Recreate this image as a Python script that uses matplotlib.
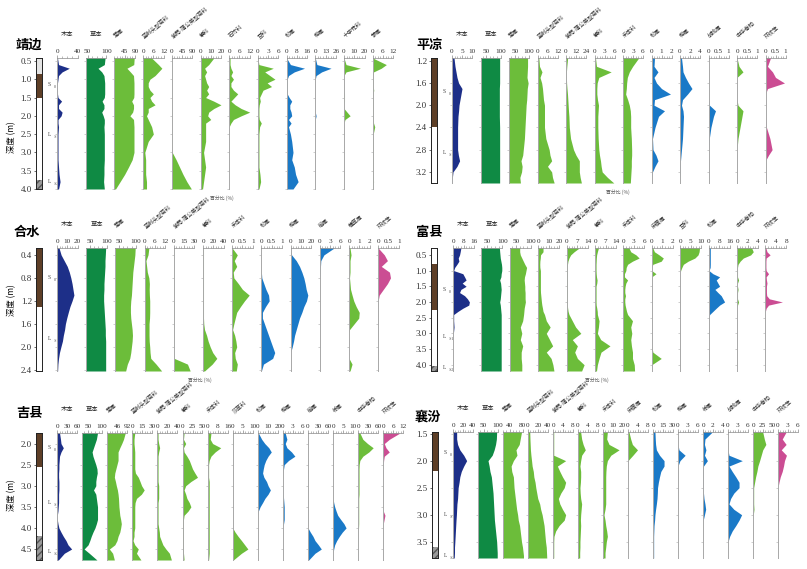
import matplotlib
matplotlib.use("Agg")
import matplotlib.pyplot as plt
from matplotlib.ticker import AutoMinorLocator, FixedLocator

plt.rcParams['font.family'] = ['Liberation Serif', 'Noto Sans CJK SC']
plt.rcParams['mathtext.fontset'] = 'stix'

W, H = 807, 569

# ---------------- 靖边 ----------------
JB_DEPTH = [0.42, 0.6, 0.7, 0.8, 0.9, 1.0, 1.1, 1.2, 1.3, 1.4, 1.5, 1.6, 1.7, 1.8,
            1.9, 2.0, 2.1, 2.2, 2.3, 2.5, 2.7, 3.0, 3.2, 3.4, 3.6, 3.8, 4.0]
JB_TAXA = ['木本', '草本', '蒿属', '蓝刺头型菊科', '紫菀-蒲公英型菊科', '藜科', '石竹科',
           '豆科', '松属', '桦属', '十字花科', '蓼属']
JB_GROUP = ['AP', 'NAP', 'herb', 'herb', 'herb', 'herb', 'herb', 'herb', 'tree', 'tree', 'herb', 'herb']
JB_TICKS = [[0, 40], [50, 100], [45, 90], [0, 6, 12], [0, 45, 90], [0, 10, 20], [0, 6, 12],
            [0, 3, 6], [0, 8, 16], [0, 13, 26], [0, 10, 20], [0, 6, 12]]
JB_XMIN = [0, 45, 0, 0, 0, 0, 0, 0, 0, 0, 0, 0]
JB_VALUES = [
    [1, 3, 24, 10, 3, 2, 1, 0.5, 1, 1, 2, 9, 3, 3, 10, 8, 2, 2, 3, 2, 2, 2, 2, 3, 4, 6, 3],
    [97, 95, 78, 88, 94, 95, 96, 96, 96, 96, 95, 89, 94, 94, 88, 92, 95, 95, 94, 95, 95, 95, 95, 94, 94, 93, 95],
    [87, 85, 55, 70, 84, 85, 86, 86, 86, 86, 85, 76, 84, 84, 80, 68, 84, 85, 86, 86, 86, 86, 78, 62, 45, 25, 5],
    [5, 9, 11, 9, 7, 4, 3, 3, 4, 6, 4, 5, 7, 3, 3, 2, 3, 4, 5, 6, 3, 1, 1.5, 1.5, 1.5, 2, 2],
    [1, 1, 1, 1, 1, 1, 1, 1, 1, 1, 1, 1, 1, 1, 1, 1, 1, 1, 1, 1, 1, 2, 19, 34, 49, 66, 86],
    [13, 8, 4, 6, 4, 5, 6, 8, 6, 8, 5, 13, 20, 13, 8, 7, 10, 5, 5, 5, 5, 3, 4, 5, 4, 3, 2],
    [0.5, 0.5, 1, 2, 1, 2.5, 1, 1, 2.5, 5, 3, 1, 3.5, 7, 12, 7, 2.5, 1, 0, 0, 0, 0, 0, 0, 0, 0, 0],
    [0, 0.3, 4.5, 2, 3.5, 5, 2.7, 4, 1.5, 1, 0.5, 0.7, 0.4, 0.3, 0.3, 0.3, 0.4, 1, 0.5, 0.3, 0.3, 0.3, 0.3, 0.3, 0.6, 0.8, 0.3],
    [0, 3, 14, 6, 1.5, 0.5, 0.5, 0.5, 0.5, 0.5, 2, 4, 2.5, 2.5, 3.5, 4, 1.5, 3.5, 1.5, 3, 4, 5, 4, 6, 7, 9, 5],
    [0, 2, 20, 8, 1, 0, 0, 0, 0, 0, 0, 0, 0, 0, 0, 1, 0, 0, 0, 0, 0, 0, 0, 0, 0, 0, 0],
    [0, 2, 16, 2, 0, 0, 0, 0, 0, 0.5, 0.5, 0.5, 0, 0, 3, 6, 1, 0, 0, 0, 0, 0, 0, 0, 0, 0, 0],
    [0, 8, 5, 0.5, 0.3, 0.3, 0.3, 0.3, 0.6, 0.3, 0.3, 0.3, 0.3, 0.3, 0.3, 0.3, 0.3, 0.5, 1.2, 0.3, 0.3, 0.3, 0.3, 0.3, 0.3, 0.5, 0.3],
]
JB_DEPTH_TICKS = [0.5, 1.0, 1.5, 2.0, 2.5, 3.0, 3.5, 4.0]
JB_LAYERS = [(0.42, 0.85, 'top'), (0.85, 1.5, 'soil'), (1.5, 3.75, 'loess'), (3.75, 4.0, 'base')]
JB_UNITS = [('S0', 1.15), ('L1-1', 2.5), ('L1-2', 3.8)]

# ---------------- 平凉 ----------------
PL_DEPTH = [1.15, 1.3, 1.4, 1.5, 1.6, 1.7, 1.8, 1.9, 2.0, 2.1, 2.2, 2.4, 2.6, 2.8, 2.9, 3.0, 3.1, 3.2, 3.3, 3.4]
PL_TAXA = ['木本', '草本', '蒿属', '蓝刺头型菊科', '紫菀-蒲公英型菊科', '藜科', '禾本科',
           '松属', '桦属', '胡桃属', '中华卷柏', '环纹藻']
PL_GROUP = ['AP', 'NAP', 'herb', 'herb', 'herb', 'herb', 'herb', 'tree', 'tree', 'tree', 'herb', 'alga']
PL_TICKS = [[0, 5, 10], [50, 100], [50, 100], [0, 6, 12], [0, 12, 24], [0, 3, 6], [0, 3, 6],
            [0, 1, 2], [0, 2, 4], [0, 0.5, 1], [0, 0.5, 1], [0, 0.5, 1]]
PL_XMIN = [0, 30, 30, 0, 0, 0, 0, 0, 0, 0, 0, 0]
PL_VALUES = [
    [1, 1.5, 2, 2.5, 3.3, 5, 4.5, 4, 3.5, 3.3, 3, 2.8, 2.8, 2.8, 3.2, 3.8, 2.5, 0.5, 0.2, 0.2],
    [97, 97, 97, 97, 97, 96, 96, 96, 96, 96, 96, 97, 97, 97, 97, 97, 97, 97, 97, 97],
    [95, 95, 94, 93, 97, 94, 93, 92, 90, 89, 88, 86, 84, 80, 78, 72, 76, 74, 68, 70],
    [0.8, 1.2, 2.7, 1.5, 2.5, 3, 3.3, 3.6, 4.2, 4.2, 4.2, 4.2, 5, 7, 7.5, 8.5, 6, 8.5, 9, 10],
    [2, 1, 0.5, 0.5, 0.7, 1.2, 1.8, 2.2, 2.6, 3, 3.5, 4, 5.5, 9, 12, 16, 16, 16, 17, 18.5],
    [0.3, 0.6, 5, 1.3, 0.8, 0.7, 0.7, 0.9, 1.2, 1.1, 1, 1, 1.1, 1.3, 1.5, 1.8, 2, 2.3, 3.9, 5.8],
    [4.7, 2.9, 1.9, 1.3, 1.1, 1, 0.8, 1.4, 1.9, 2.2, 2.3, 2.3, 2.5, 2.6, 2.6, 2.5, 2.5, 2.4, 2.3, 2.2],
    [0.3, 0.25, 0.65, 0.25, 0.5, 1.0, 1.9, 0.3, 0.25, 1.3, 0.7, 0.35, 0.1, 0.15, 0.45, 0.65, 0.35, 0.1, 0, 0],
    [0.3, 0.5, 0.6, 1.1, 1.7, 2.4, 1.5, 0.5, 0.3, 0.6, 0.7, 0.6, 0.5, 0.3, 0.2, 0.1, 0.1, 0.1, 0, 0],
    [0, 0, 0, 0, 0, 0, 0, 0, 0.05, 0.35, 0.25, 0.12, 0.04, 0, 0, 0, 0, 0, 0, 0],
    [0, 0.1, 0.3, 0, 0, 0, 0, 0, 0.05, 0.3, 0.25, 0.15, 0.05, 0, 0, 0, 0, 0, 0, 0],
    [0.25, 0.1, 0.35, 0.5, 0.95, 0.1, 0, 0, 0, 0, 0, 0.05, 0.22, 0.33, 0.15, 0, 0, 0, 0, 0],
]
PL_DEPTH_TICKS = [1.2, 1.6, 2.0, 2.4, 2.8, 3.2]
PL_LAYERS = [(1.15, 2.4, 'soil'), (2.4, 3.35, 'loess')]
PL_UNITS = [('S0', 1.75), ('L1-1', 2.85)]

# ---------------- 合水 ----------------
HS_DEPTH = [0.28, 0.4, 0.5, 0.6, 0.7, 0.8, 0.9, 1.0, 1.1, 1.2, 1.3, 1.4, 1.5, 1.6, 1.7,
            1.8, 1.9, 2.0, 2.1, 2.2, 2.3, 2.42]
HS_TAXA = ['木本', '草本', '蒿属', '蓝刺头型菊科', '紫菀-蒲公英型菊科', '藜科', '禾本科',
           '松属', '桦属', '榆属', '葎草属', '环纹藻']
HS_GROUP = ['AP', 'NAP', 'herb', 'herb', 'herb', 'herb', 'herb', 'tree', 'tree', 'tree', 'herb', 'alga']
HS_TICKS = [[0, 10, 20], [50, 100], [50, 100], [0, 6, 12], [0, 15, 30], [0, 20, 40], [0, 0.5, 1],
            [0, 0.5, 1], [0, 10, 20], [0, 3, 6], [0, 1, 2], [0, 0.5, 1]]
HS_XMIN = [0, 40, 40, 0, 0, 0, 0, 0, 0, 0, 0, 0]
HS_VALUES = [
    [2, 4, 7, 10, 12, 13.5, 14.7, 15.6, 16.5, 14.7, 12.6, 11, 9.5, 8.2, 7.4, 6.2, 5.3, 3.8, 2.4, 1.5, 0.9, 0.6],
    [97, 96, 95, 95, 94, 93, 92, 92, 91, 91, 92, 93, 94, 95, 96, 96, 97, 97, 97, 97, 97, 97],
    [98, 97, 95, 93, 91, 90, 89, 88, 87, 85, 84, 84, 85, 87, 89, 90, 89, 87, 85, 82, 75, 70],
    [2.5, 2, 0.8, 1.2, 1.6, 2.5, 2.8, 2.7, 2.8, 3, 3, 3, 2.9, 2.6, 2.6, 2.6, 2.7, 3, 3.2, 3.6, 6.7, 10],
    [0.3, 0.3, 0.3, 0.3, 0.3, 0.3, 0.3, 0.3, 0.3, 0.3, 0.3, 0.3, 0.3, 0.3, 0.3, 0.3, 0.3, 0.3, 0.3, 0.5, 20, 24],
    [1, 1, 1, 1, 1, 1, 1, 1, 1, 1, 1, 1, 1, 1.5, 3, 7, 10, 14, 19, 27, 18, 3],
    [0, 0.25, 0.1, 0.22, 0.05, 0.08, 0.3, 0.5, 0.83, 0.6, 0.4, 0.22, 0.15, 0.08, 0.02, 0.12, 0.18, 0.22, 0.12, 0.15, 0.25, 0.2],
    [0, 0, 0, 0, 0, 0.02, 0.12, 0.22, 0.35, 0.38, 0.2, 0.05, 0.05, 0.15, 0.25, 0.35, 0.45, 0.55, 0.65, 0.55, 0.1, 0],
    [0, 1, 5.5, 8.7, 11, 12.9, 14.2, 15.2, 16.8, 15.5, 12.9, 11, 8.7, 7.1, 5.5, 3.9, 2.9, 1.6, 0, 0, 0, 0],
    [4.2, 1.2, 0.3, 0.2, 0.15, 0, 0, 0, 0, 0, 0, 0, 0, 0, 0, 0, 0, 0, 0, 0, 0, 0],
    [0.1, 0.2, 0.1, 0.1, 0.1, 0.05, 0.1, 0.15, 0.3, 0.46, 0.7, 1.0, 0.95, 0.5, 0.05, 0, 0, 0, 0, 0, 0.3, 0.1],
    [0, 0.3, 0.45, 0.15, 0.55, 0.6, 0.45, 0.25, 0.05, 0, 0, 0, 0, 0, 0, 0, 0, 0, 0, 0, 0, 0],
]
HS_DEPTH_TICKS = [0.4, 0.8, 1.2, 1.6, 2.0, 2.4]
HS_LAYERS = [(0.28, 1.3, 'soil'), (1.3, 2.42, 'loess')]
HS_UNITS = [('S0', 0.8), ('L1-1', 1.85)]

# ---------------- 富县 ----------------
FX_DEPTH = [0.28, 0.4, 0.5, 0.6, 0.7, 0.8, 0.9, 1.0, 1.1, 1.2, 1.3, 1.4, 1.5, 1.6, 1.7, 1.8,
            1.9, 2.0, 2.1, 2.2, 2.3, 2.4, 2.6, 2.8, 3.0, 3.2, 3.4, 3.6, 3.8, 4.0, 4.2]
FX_TAXA = ['木本', '草本', '蒿属', '蓝刺头型菊科', '紫菀-蒲公英型菊科', '藜科', '禾本科',
           '麻黄属', '豆科', '松属', '中华卷柏', '环纹藻']
FX_GROUP = ['AP', 'NAP', 'herb', 'herb', 'herb', 'herb', 'herb', 'herb', 'herb', 'tree', 'herb', 'alga']
FX_TICKS = [[0, 8, 16], [50, 100], [50, 100], [0, 10, 20], [0, 7, 14], [0, 7, 14], [0, 3, 6],
            [0, 1, 2], [0, 5, 10], [0, 8, 16], [0, 2, 4], [0, 4, 8]]
FX_XMIN = [0, 30, 30, 0, 0, 0, 0, 0, 0, 0, 0, 0]
FX_VALUES = [
    [6, 5.5, 5, 4, 4.5, 3, 1.3, 0.5, 7.5, 8.8, 10, 7, 10, 6, 5, 8.8, 11, 12.5, 12, 7.5, 3.8, 0.5,
     0.5, 0.8, 0.3, 0, 0, 0, 0, 0, 0],
    [90, 91, 92, 93, 95, 97, 98, 98, 96, 95, 91, 94, 95, 96, 95, 94, 93, 91, 93, 94, 95, 96,
     96, 96, 96, 96, 96, 96, 96, 96, 96],
    [63, 63, 65, 70, 75, 80, 86, 84, 82, 79, 78, 79, 80, 80, 81, 81, 81, 82, 80, 78, 77, 76,
     73, 65, 70, 65, 73, 68, 68, 70, 70],
    [4.6, 4.6, 2.2, 2, 1.6, 1.5, 1.6, 2.1, 2.1, 2.1, 2.1, 2.1, 2.1, 2.1, 2.2, 2.5, 2.8, 3.1, 3.5, 4.1, 4.6, 6,
     7.7, 11.4, 7.7, 10.8, 13.8, 7.7, 12.3, 14, 15],
    [8.4, 5, 2.7, 1.6, 0.9, 0.6, 0.5, 0.5, 0.5, 0.5, 0.5, 0.5, 0.5, 0.5, 0.5, 0.5, 0.5, 0.5, 0.5, 0.7, 1, 1.6,
     3.8, 6, 9.5, 3.8, 7.2, 5.4, 7.2, 11.7, 10],
    [2.3, 1.6, 1.1, 0.9, 0.8, 0.7, 0.7, 0.7, 0.8, 1, 1.4, 1.2, 0.7, 0.7, 0.7, 0.7, 0.7, 0.7, 0.8, 1.2, 1.5, 1.6,
     2.7, 2.3, 1.6, 3.8, 10, 4, 2.7, 1.6, 1],
    [1.6, 2.1, 3.6, 4.5, 2.6, 1.2, 0.8, 0.7, 0.3, 0.3, 1.2, 0.7, 0.5, 0.4, 0.4, 0.6, 0.4, 0.4, 0.5, 0.7, 0.9, 1.2,
     2.6, 2.1, 2.4, 2.1, 2.3, 2.6, 2.6, 3.1, 3.2],
    [0.1, 0.25, 0.7, 1.1, 0.9, 0.1, 0, 0, 0.4, 0, 0, 0, 0, 0, 0, 0, 0, 0, 0, 0, 0, 0,
     0, 0, 0, 0, 0, 0.1, 0.9, 0, 0],
    [9.2, 9, 8.5, 7, 3.8, 1.5, 0.8, 0.2, 0, 0, 0, 0, 0, 0, 0, 0, 0, 0, 0, 0, 0, 0,
     0, 0, 0, 0, 0, 0, 0, 0, 0],
    [1.3, 1.3, 1.3, 1.3, 1.3, 1.3, 1.2, 0.3, 3.3, 8.4, 5.8, 7.1, 8.4, 4.8, 7.1, 9.6, 10.9, 12.2, 8.4, 5.8, 3.3, 0.8,
     0, 0, 0, 0, 0, 0, 0, 0, 0],
    [2.8, 3.1, 2.6, 1.2, 0.6, 0.2, 0.1, 0.1, 0.1, 0.1, 0.3, 0.1, 0.1, 0.2, 0.1, 0.1, 0.1, 0.3, 0.1, 0, 0, 0,
     0, 0, 0, 0, 0, 0, 0, 0, 0],
    [0.2, 0.6, 1.8, 0.3, 0.2, 0.2, 0.2, 0.3, 1.2, 0.3, 0.4, 0.6, 0.4, 0.4, 0.4, 0.5, 1.5, 6.5, 1.2, 0.3, 0, 0,
     0, 0, 0, 0, 0, 0, 0, 0, 0],
]
FX_DEPTH_TICKS = [0.5, 1.0, 1.5, 2.0, 2.5, 3.0, 3.5, 4.0]
FX_LAYERS = [(0.28, 0.8, 'loess'), (0.8, 2.27, 'soil'), (2.27, 4.05, 'loess'), (4.05, 4.2, 'base')]
FX_UNITS = [('S0', 1.6), ('L1-1', 3.1), ('L1-2', 4.1)]

# ---------------- 吉县 ----------------
JX_DEPTH = [1.75, 1.9, 2.0, 2.1, 2.2, 2.3, 2.4, 2.5, 2.6, 2.7, 2.8, 2.9, 3.0, 3.1, 3.2,
            3.3, 3.4, 3.5, 3.6, 3.7, 3.8, 3.9, 4.0, 4.1, 4.2, 4.3, 4.4, 4.5, 4.6, 4.76]
JX_TAXA = ['木本', '草本', '蒿属', '蓝刺头型菊科', '紫菀-蒲公英型菊科', '藜科', '禾本科',
           '莎草科', '松属', '桦属', '榆属', '栎属', '中华卷柏', '环纹藻']
JX_GROUP = ['AP', 'NAP', 'herb', 'herb', 'herb', 'herb', 'herb', 'herb', 'tree', 'tree', 'tree', 'tree',
            'herb', 'alga']
JX_TICKS = [[0, 30, 60], [50, 100], [46, 92], [0, 15, 30], [0, 20, 40], [0, 25, 50], [0, 8, 16],
            [0, 5, 10], [0, 10, 20], [0, 3, 6], [0, 30, 60], [0, 5, 10], [0, 30, 60], [0, 6, 12]]
JX_XMIN = [0, 30, 0, 0, 0, 0, 0, 0, 0, 0, 0, 0, 0, 0]
JX_VALUES = [
    [7.6, 10.5, 12, 19, 12, 7.6, 6.7, 5.7, 5.7, 4.8, 4.8, 5.7, 5.7, 5.7, 4.8, 4.8, 4.8, 3.8, 2.9, 1, 1, 2.9,
     5.7, 12, 19, 27, 33, 44, 22, 4],
    [84, 80, 75, 70, 65, 68, 73, 78, 82, 83, 80, 78, 78, 70, 78, 80, 82, 84, 84, 84, 84, 80,
     75, 68, 62, 57, 51, 37, 55, 82],
    [83, 75, 67, 58, 50, 50, 50, 45, 40, 35, 33, 38, 42, 47, 50, 52, 53, 54, 56, 58, 62, 65,
     62, 58, 50, 45, 35, 10, 25, 33],
    [3.7, 2.6, 2.6, 3.2, 3.7, 3.7, 3.7, 3.7, 3.7, 4.7, 9, 11.6, 14, 17.9, 13.7, 6.3, 4.2, 3.7, 3.7, 3.7, 3.7, 3.7,
     3.7, 2.6, 2.6, 1.1, 3.7, 9, 6.3, 13],
    [1.3, 1.3, 2.6, 4.5, 2.6, 1.3, 1.3, 1.3, 1.3, 1.3, 1.3, 1.3, 2.6, 2.6, 2.6, 2.6, 1.3, 1.3, 1.3, 1.3, 1.3, 1.3,
     2.6, 3.9, 4.5, 7.7, 11, 17, 24, 28],
    [4, 2.5, 8, 2.5, 4, 11, 17, 21, 25, 31, 37.5, 21, 8, 4, 8, 11, 17, 21, 14, 4, 2.5, 2.5,
     2.5, 2.5, 2.5, 2.5, 2.5, 2.5, 2.5, 4],
    [2.7, 2.1, 4, 10.5, 6, 2.7, 1.3, 0.8, 0.8, 0.8, 0.8, 1.3, 1.3, 1.3, 1.3, 1.3, 1.3, 1.3, 1.3, 1.3, 1.3, 1.3,
     1.3, 1.3, 1.3, 1.3, 1.3, 1.3, 1.3, 0.8],
    [0.3, 0.3, 0.3, 0, 0, 0, 0, 0, 0, 0, 0, 0, 0, 0, 0, 0, 0, 0, 0, 0, 0, 0,
     0, 1.2, 2.7, 4.4, 6, 7.6, 4.4, 0.3],
    [0.6, 3.9, 7, 11, 13.5, 10.3, 8, 6.4, 5.5, 4.8, 6.1, 8.7, 10.3, 12.6, 10.3, 7.1, 4.8, 2.3, 0.6, 0, 0, 0,
     0, 0, 0, 0, 0, 0, 0, 0],
    [0.7, 1.2, 0.7, 1.2, 2.6, 3.6, 1.7, 0.4, 0.2, 0, 0, 0, 0, 0.1, 0.1, 0.2, 0.3, 0.4, 0.4, 0.4, 0.4, 0.2,
     0, 0, 0, 0, 0, 0, 0, 0],
    [0, 0, 0, 0, 0, 0, 0, 0, 0, 0, 0, 0, 0, 0, 0, 0, 0, 0, 0, 0, 0, 0,
     0, 7, 15, 21, 31, 40, 21, 2],
    [0, 0, 0, 0, 0, 0, 0, 0, 0, 0, 0, 0, 0, 0, 0, 0, 0.3, 0.8, 1.5, 2.3, 3.8, 5.4,
     6.5, 4.6, 3.1, 1.8, 0.8, 0.3, 0, 0],
    [5, 14, 28, 45, 32, 14, 5, 3, 2.5, 2.5, 2.5, 2.5, 2.5, 2.5, 2.5, 1.5, 1.5, 1.5, 1.5, 1.5, 1.5, 1.5,
     1, 0.5, 0.5, 0.5, 0.5, 0.5, 0.5, 0.5],
    [10, 3.6, 0.6, 1.6, 3.6, 0.6, 0.2, 0, 0, 0, 0, 0, 0, 0, 0, 0, 0, 0, 0, 1, 0.5, 0,
     0, 0, 0, 0, 0, 0, 0, 0],
]
JX_DEPTH_TICKS = [2.0, 2.5, 3.0, 3.5, 4.0, 4.5]
JX_LAYERS = [(1.75, 2.55, 'soil'), (2.55, 4.2, 'loess'), (4.2, 4.76, 'base')]
JX_UNITS = [('S0', 2.1), ('L1-1', 3.4), ('L1-2', 4.55)]

# ---------------- 襄汾 ----------------
XF_DEPTH = [1.47, 1.6, 1.7, 1.8, 1.9, 2.0, 2.1, 2.2, 2.3, 2.4, 2.5, 2.6, 2.7, 2.8, 2.9,
            3.0, 3.1, 3.2, 3.3, 3.4, 3.5, 3.6, 3.7, 3.8]
XF_TAXA = ['木本', '草本', '蒿属', '蓝刺头型菊科', '紫菀-蒲公英型菊科', '藜科', '禾本科',
           '麻黄属', '松属', '桦属', '栎属', '胡桃属', '中华卷柏', '环纹藻']
XF_GROUP = ['AP', 'NAP', 'herb', 'herb', 'herb', 'herb', 'herb', 'herb', 'tree', 'tree', 'tree', 'tree',
            'herb', 'alga']
XF_TICKS = [[0, 20, 40], [50, 100], [40, 80], [0, 20, 40], [0, 4, 8], [0, 4, 8], [0, 10, 20],
            [0, 4, 8], [0, 15, 30], [0, 3, 6], [0, 2, 4], [0, 3, 6], [0, 25, 50], [0, 3, 6]]
XF_XMIN = [0, 30, 20, 0, 0, 0, 0, 0, 0, 0, 0, 0, 0, 0]
XF_VALUES = [
    [7.5, 7.5, 9.4, 14, 22, 28, 22, 17, 14, 12.5, 10.6, 10, 9.4, 8.1, 7.5, 7, 6.2, 5.6, 5, 4.4, 3.8, 3.1, 3.1, 2.5],
    [97, 96, 93, 88, 81, 66, 70, 73, 78, 80, 82, 84, 85, 86, 87, 88, 89, 91, 93, 95, 97, 98, 99, 99],
    [77, 73, 70, 60, 63, 52, 45, 47, 52, 53, 54, 56, 58, 60, 62, 65, 67, 71, 73, 75, 77, 80, 82, 84],
    [3.6, 4, 4.5, 5, 6, 7.3, 8.5, 10.9, 12, 14.5, 16, 18, 20, 24, 26, 29, 31, 33, 34, 35, 36, 37.5, 38, 38.5],
    [0.3, 0.3, 0.3, 0.3, 0.3, 5.2, 1.8, 2.8, 3.9, 5.2, 4.6, 3.2, 2.2, 2.8, 3.9, 5.2, 4.6, 2.5, 1.1, 0.4, 0.3, 0.3, 0.3, 0.3],
    [1.1, 1.5, 2.1, 3, 1.5, 1.1, 0.8, 1.1, 1.1, 1, 0.8, 0.9, 1.1, 1.5, 1.3, 1.1, 1, 1.1, 1, 0.9, 0.8, 0.8, 0.7, 0.7],
    [4.5, 3.8, 6.2, 16.5, 8, 4.5, 3.4, 3, 2.8, 2.8, 2.8, 2.8, 2.8, 2.8, 2.1, 1, 2.1, 2.8, 3.8, 4.5, 3.4, 2.8, 2.1, 2.1],
    [0.4, 1.1, 1.8, 3.9, 2, 0, 0, 0, 0, 0, 0, 0, 0, 0, 0, 0, 0, 0, 0, 0, 0, 0, 0, 0],
    [3, 3.5, 4, 5.2, 10, 17, 17, 12, 10, 8.3, 7, 6.7, 6.2, 5.2, 4, 3, 2.5, 1.6, 1.3, 1, 1, 1, 1, 1],
    [0, 0, 0, 0.3, 2.2, 0.6, 0, 0, 0, 0, 0, 0, 0, 0, 0, 0, 0, 0, 0, 0, 0, 0, 0, 0],
    [1.9, 0.4, 0.3, 0.6, 0.3, 0.9, 0.1, 0.1, 0.1, 0.1, 0.1, 0.1, 0.2, 0.4, 0.55, 0.3, 0.05, 0, 0, 0, 0, 0, 0, 0],
    [0, 0, 0, 0, 0.3, 4.4, 0.3, 1.3, 2.4, 3.4, 3.4, 1.8, 0.8, 0.3, 1.8, 4.2, 3.4, 2.4, 1.3, 0.5, 0, 0, 0, 0],
    [25, 29, 33, 25, 21, 17, 12.5, 10, 6.7, 4.2, 1.7, 1.7, 1.7, 1.7, 2.5, 0.8, 0, 0, 0, 0, 0, 0, 0, 0],
    [2.5, 1.3, 2.5, 1.0, 2.6, 2.0, 1.7, 1.3, 0.7, 0.3, 0, 0, 0, 0, 0, 0, 0, 0, 0, 0, 0, 0, 0, 0],
]
XF_DEPTH_TICKS = [1.5, 2.0, 2.5, 3.0, 3.5]
XF_LAYERS = [(1.47, 2.2, 'soil'), (2.2, 3.6, 'loess'), (3.6, 3.8, 'base')]
XF_UNITS = [('S0', 1.85), ('L1-1', 3.0), ('L1-2', 3.75)]

COLORS = {'AP': '#1d2f88', 'NAP': '#0f8a44', 'herb': '#6cbd3a', 'tree': '#1a79c7', 'alga': '#cb4d93'}
LAYER_COLORS = {'top': '#e4e4e4', 'soil': '#5e3f27', 'loess': '#ffffff', 'base': '#9a9a9a'}
UNIT_SUB = {'S0': '0', 'L1-1': '1-1', 'L1-2': '1-2'}


def px_axes(fig, x0, y0, x1, y1):
    return fig.add_axes([x0 / W, 1 - y1 / H, (x1 - x0) / W, (y1 - y0) / H])


def draw_panel(fig, name, depth, taxa, groups, ticks, xmin, values, dticks, layers, units, lay):
    y0, y1 = lay['y']
    ylim = (depth[-1], depth[0])

    fig.text(lay['title'][0] / W, 1 - lay['title'][1] / H, name, fontsize=9.5,
             fontweight='bold', family=['Noto Sans CJK SC'], va='center', ha='left')

    # lithology column with depth axis
    sx0, sx1 = lay['strat']
    ax_s = px_axes(fig, sx0, y0, sx1, y1)
    for top, bot, kind in layers:
        if kind == 'base':
            ax_s.axhspan(top, bot, facecolor=LAYER_COLORS[kind], edgecolor='#555555',
                         hatch='/////', linewidth=0)
        else:
            ax_s.axhspan(top, bot, color=LAYER_COLORS[kind], linewidth=0)
    ax_s.set_xlim(0, 1)
    ax_s.set_ylim(*ylim)
    ax_s.set_xticks([])
    ax_s.set_yticks(dticks)
    ax_s.set_yticklabels([f'{d:.1f}' for d in dticks])
    ax_s.tick_params(axis='y', labelsize=6.5, length=1.5, width=0.5, pad=1.5, colors='#333333')
    for sp in ax_s.spines.values():
        sp.set_linewidth(0.7)
        sp.set_color('#222222')
    for label, d in units:
        # unit letter with small subscript
        ax_s.text(1.9, d, label[0], fontsize=4, va='center', ha='left',
                  color='#444444', clip_on=False)
        ax_s.text(2.9, d + 0.02 * (ylim[0] - ylim[1]), UNIT_SUB[label], fontsize=2.8,
                  va='center', ha='left', color='#444444', clip_on=False)
    if lay.get('ylabel') is not None:
        fig.text(12 / W, 1 - lay['ylabel'] / H, '深度 (m)', rotation=90, fontsize=6,
                 family=['Noto Sans CJK SC'], va='center', ha='center')

    for i, taxon in enumerate(taxa):
        x0 = lay['x0'] + i * lay['step']
        ax = px_axes(fig, x0, y0, x0 + lay['w'], y1)
        lo, hi = xmin[i], ticks[i][-1]
        ax.fill_betweenx(depth, lo, values[i], color=COLORS[groups[i]], linewidth=0)
        ax.set_xlim(lo, hi)
        ax.set_ylim(*ylim)
        ax.patch.set_alpha(0)
        for side in ('right', 'bottom'):
            ax.spines[side].set_visible(False)
        ax.spines['left'].set_color('#a8a8a8')
        ax.spines['left'].set_linewidth(0.7)
        ax.spines['top'].set_color('#8a8a8a')
        ax.spines['top'].set_linewidth(0.5)
        ax.xaxis.set_ticks_position('top')
        ax.xaxis.set_major_locator(FixedLocator(ticks[i]))
        ax.set_xticklabels([f'{t:g}' for t in ticks[i]])
        ax.xaxis.set_minor_locator(AutoMinorLocator(4))
        ax.tick_params(axis='x', which='major', length=2.2, width=0.5, pad=1,
                       labelsize=5.2, colors='#888888', labelcolor='#333333')
        ax.tick_params(axis='x', which='minor', length=1.2, width=0.4, colors='#888888')
        ax.set_yticks(dticks)
        ax.tick_params(axis='y', length=1.5, width=0.4, colors='#a8a8a8', labelleft=False)

        cx = x0 + lay['w'] / 2
        if taxon in ('木本', '草本'):
            fig.text(cx / W, 1 - (y0 - 24) / H, taxon, fontsize=4.5, ha='center',
                     va='center', family=['Noto Sans CJK SC'], color='#222222')
        else:
            fig.text((x0 + 2) / W, 1 - (y0 - 19) / H, taxon, fontsize=4, rotation=40,
                     rotation_mode='anchor', ha='left', va='bottom',
                     family=['Noto Sans CJK SC'], color='#333333')

    if lay.get('xlabel') is not None:
        fig.text(lay['xlabel'] / W, 1 - (y1 + 9) / H, '百分比 (%)', fontsize=3.5,
                 ha='center', va='center', family=['Noto Sans CJK SC'], color='#555555')


fig = plt.figure(figsize=(W / 100, H / 100), dpi=100)
fig.patch.set_facecolor('white')

panels = [
    ('靖边', JB_DEPTH, JB_TAXA, JB_GROUP, JB_TICKS, JB_XMIN, JB_VALUES, JB_DEPTH_TICKS, JB_LAYERS, JB_UNITS,
     dict(title=(16, 45), strat=(36, 42), x0=57, step=28.7, w=20.5, y=(58, 189), ylabel=137, xlabel=222)),
    ('平凉', PL_DEPTH, PL_TAXA, PL_GROUP, PL_TICKS, PL_XMIN, PL_VALUES, PL_DEPTH_TICKS, PL_LAYERS, PL_UNITS,
     dict(title=(416, 45), strat=(431, 437), x0=452, step=28.5, w=20, y=(58, 183), ylabel=None, xlabel=618)),
    ('合水', HS_DEPTH, HS_TAXA, HS_GROUP, HS_TICKS, HS_XMIN, HS_VALUES, HS_DEPTH_TICKS, HS_LAYERS, HS_UNITS,
     dict(title=(14, 232), strat=(36, 42), x0=57, step=29.2, w=20.5, y=(248, 371), ylabel=300, xlabel=200)),
    ('富县', FX_DEPTH, FX_TAXA, FX_GROUP, FX_TICKS, FX_XMIN, FX_VALUES, FX_DEPTH_TICKS, FX_LAYERS, FX_UNITS,
     dict(title=(416, 232), strat=(431, 437), x0=453, step=28.4, w=21, y=(248, 371), ylabel=None, xlabel=597)),
    ('吉县', JX_DEPTH, JX_TAXA, JX_GROUP, JX_TICKS, JX_XMIN, JX_VALUES, JX_DEPTH_TICKS, JX_LAYERS, JX_UNITS,
     dict(title=(16, 413), strat=(36, 42), x0=57, step=25.1, w=20, y=(433, 560), ylabel=495, xlabel=None)),
    ('襄汾', XF_DEPTH, XF_TAXA, XF_GROUP, XF_TICKS, XF_XMIN, XF_VALUES, XF_DEPTH_TICKS, XF_LAYERS, XF_UNITS,
     dict(title=(415, 417), strat=(432, 438), x0=453, step=25.0, w=19.5, y=(432, 558), ylabel=None, xlabel=None)),
]

for p in panels:
    draw_panel(fig, *p)

fig.savefig('out.png', dpi=100, facecolor='white')
